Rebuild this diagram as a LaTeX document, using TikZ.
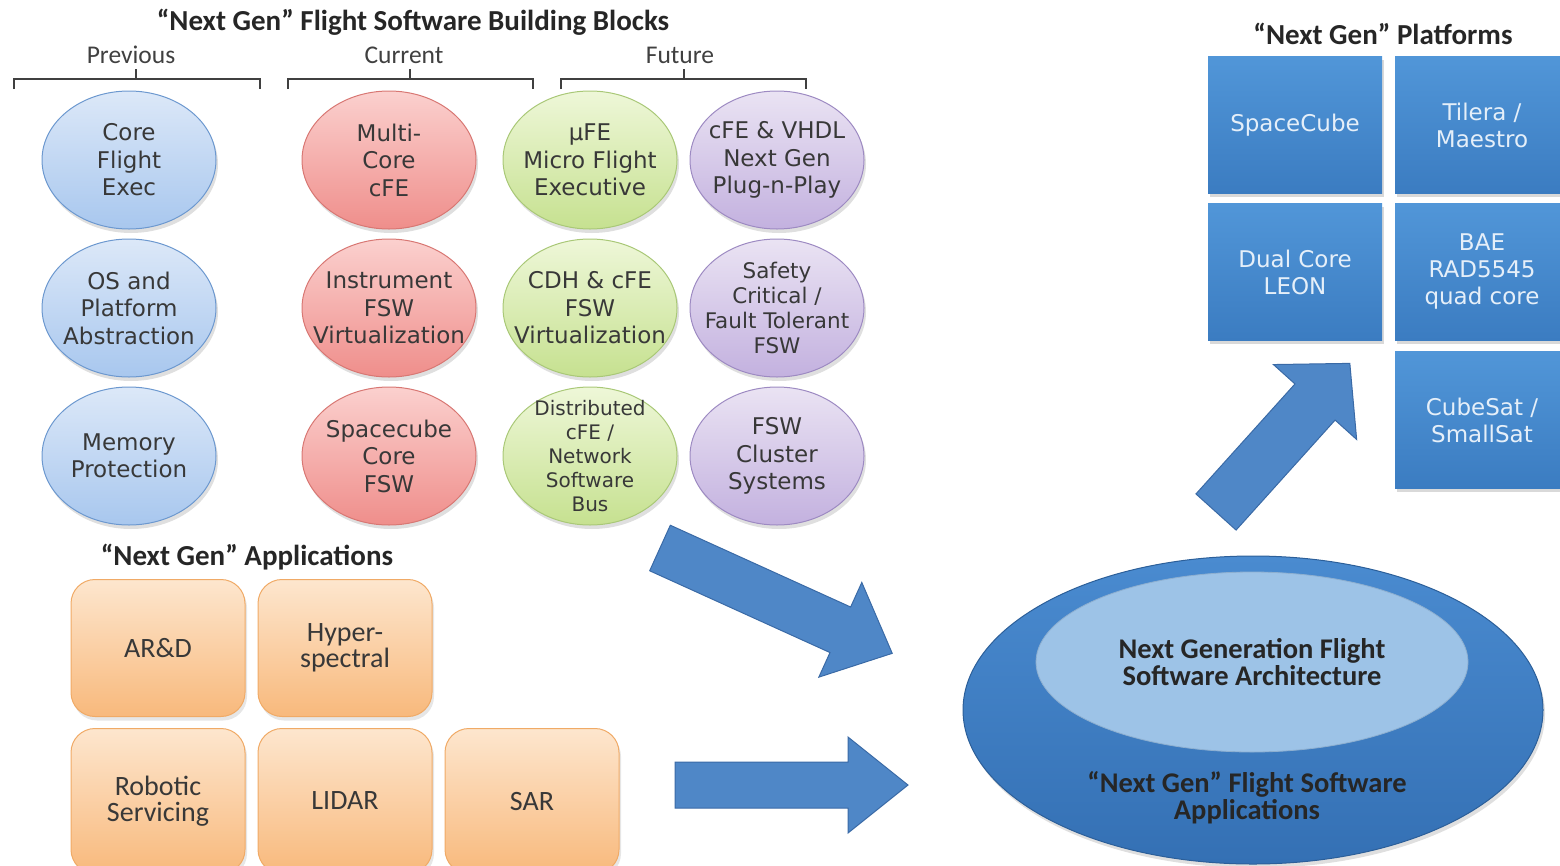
\documentclass[tikz,border=0pt]{standalone}
\usepackage{fontspec}
\setmainfont{DejaVu Sans}
\newfontfamily\calfont{Carlito}
\usetikzlibrary{shapes.geometric,shadows,positioning}

\definecolor{prevline}{HTML}{6C98CF}
\definecolor{prevtop}{HTML}{DCE8F8}
\definecolor{prevbot}{HTML}{A8C7EE}
\definecolor{curline}{HTML}{D87773}
\definecolor{curtop}{HTML}{FBD0CE}
\definecolor{curbot}{HTML}{EF8E8B}
\definecolor{futline}{HTML}{A9C877}
\definecolor{futtop}{HTML}{EEF7D8}
\definecolor{futbot}{HTML}{C6E190}
\definecolor{nxtline}{HTML}{9D8AC2}
\definecolor{nxttop}{HTML}{EAE3F3}
\definecolor{nxtbot}{HTML}{C3B1DF}
\definecolor{appline}{HTML}{F0AA66}
\definecolor{apptop}{HTML}{FDE6CE}
\definecolor{appbot}{HTML}{F8B97C}
\definecolor{platop}{HTML}{5196D8}
\definecolor{platbot}{HTML}{3B7CC1}
\definecolor{arrowfill}{HTML}{4F87C7}
\definecolor{arrowline}{HTML}{3A6AA6}
\definecolor{outertop}{HTML}{4A8BD0}
\definecolor{outerbot}{HTML}{3470B4}
\definecolor{innerfill}{HTML}{9DC3E7}
\definecolor{inktext}{HTML}{383838}

\tikzset{
  blk/.style={ellipse, minimum width=174pt, minimum height=138pt, line width=1pt,
    inner xsep=-16pt, inner ysep=-12pt,
    align=center, text=inktext, font=\fontsize{23}{27.5}\selectfont,
    drop shadow={shadow xshift=2pt, shadow yshift=-4pt, opacity=0.25}},
  prevblk/.style={blk, draw=prevline, top color=prevtop, bottom color=prevbot},
  curblk/.style={blk, draw=curline, top color=curtop, bottom color=curbot},
  futblk/.style={blk, draw=futline, top color=futtop, bottom color=futbot},
  nxtblk/.style={blk, draw=nxtline, top color=nxttop, bottom color=nxtbot},
  appbox/.style={rectangle, rounded corners=24pt, minimum width=174pt, minimum height=137pt,
    draw=appline, line width=1pt, top color=apptop, bottom color=appbot, align=center,
    text=inktext, font=\calfont\fontsize{28}{26.5}\selectfont,
    drop shadow={shadow xshift=2pt, shadow yshift=-4pt, opacity=0.2}},
  platbox/.style={rectangle, minimum width=174pt, minimum height=137pt,
    top color=platop, bottom color=platbot, align=center, text=white!85!platop,
    font=\fontsize{23}{27}\selectfont,
    drop shadow={shadow xshift=2pt, shadow yshift=-3pt, opacity=0.3}},
  hdr/.style={font=\calfont\bfseries\fontsize{29}{32}\selectfont, text=black!85},
  sublbl/.style={font=\calfont\fontsize{25.5}{28}\selectfont, text=black!75},
  archtxt/.style={align=center, font=\calfont\bfseries\fontsize{28.5}{27}\selectfont, text=black!85},
  brk/.style={draw=black!75, line width=1.6pt},
  bigarrow/.style={fill=arrowfill, draw=arrowline, line width=1pt, line join=miter}
}

\begin{document}
\begin{tikzpicture}[x=1pt,y=-1pt]
\useasboundingbox (0,0) rectangle (1560,865);
\clip (0,0) rectangle (1560,865);

% building blocks
\node[hdr] (bbtitle) at (413,22) {“Next Gen” Flight Software Building Blocks};
\node[sublbl] (prevlbl) at (131,55) {Previous};
\node[sublbl] (curlbl) at (404,55) {Current};
\node[sublbl] (futlbl) at (680,55) {Future};
\foreach \l/\r/\m in {14/260/136, 288/533/410, 561/806/684}{
  \draw[brk] (\l,89) |- (\r,79) -- (\r,89);
  \draw[brk] (\m,79) -- (\m,69);
}

\node[prevblk] (cfe) at (129,160) {Core\\Flight\\Exec};
\node[prevblk] (osal) at (129,308) {OS and\\Platform\\Abstraction};
\node[prevblk] (memprot) at (129,456) {Memory\\Protection};

\node[curblk] (multicore) at (389,160) {Multi-\\Core\\cFE};
\node[curblk] (instvirt) at (389,308) {Instrument\\FSW\\Virtualization};
\node[curblk] (sccore) at (389,456) {Spacecube\\Core\\FSW};

\node[futblk] (mufe) at (590,160) {µFE\\Micro Flight\\Executive};
\node[futblk] (cdhvirt) at (590,308) {CDH \& cFE\\FSW\\Virtualization};
\node[futblk, font=\fontsize{20}{24}\selectfont] (distcfe) at (590,456) {Distributed\\cFE /\\Network\\Software\\Bus};

\node[nxtblk] (vhdl) at (777,160) {cFE \& VHDL\\Next Gen\\Plug-n-Play};
\node[nxtblk, font=\fontsize{21.5}{25}\selectfont] (safety) at (777,308) {Safety\\Critical /\\Fault Tolerant\\FSW};
\node[nxtblk] (cluster) at (777,456) {FSW\\Cluster\\Systems};

% applications
\node[hdr] (apptitle) at (247,557) {“Next Gen” Applications};
\node[appbox] (ard) at (158,648) {AR\&D};
\node[appbox] (hyper) at (345,648) {Hyper-\\spectral};
\node[appbox, minimum height=145pt] (robotic) at (158,801) {Robotic\\Servicing};
\node[appbox, minimum height=145pt] (lidar) at (345,801) {LIDAR};
\node[appbox, minimum height=145pt] (sar) at (532,801) {SAR};

% platforms
\node[hdr] (plattitle) at (1383,34) {“Next Gen” Platforms};
\node[platbox] (spacecube) at (1295,125) {SpaceCube};
\node[platbox] (tilera) at (1482,125) {Tilera /\\Maestro};
\node[platbox] (leon) at (1295,272) {Dual Core\\LEON};
\node[platbox] (bae) at (1482,272) {BAE\\RAD5545\\quad core};
\node[platbox] (cubesat) at (1482,420) {CubeSat /\\SmallSat};

% architecture
\node[ellipse, minimum width=580pt, minimum height=308pt, top color=outertop, bottom color=outerbot,
  draw=outerbot!85!black, line width=1pt,
  drop shadow={shadow xshift=2pt, shadow yshift=-4pt, opacity=0.25}] (outer) at (1253,710) {};
\node[ellipse, minimum width=432pt, minimum height=180pt, fill=innerfill, draw=innerfill!90!black,
  line width=0.8pt, inner xsep=-40pt, archtxt] (inner) at (1252,662)
  {Next Generation Flight\\Software Architecture};
\node[archtxt] (apps) at (1247,798) {“Next Gen” Flight Software\\Applications};

% block arrows
\draw[bigarrow, shift={(660,548)}, rotate=-24.4]
  (0,-25) -- (198,-25) -- (198,-52) -- (255,0) -- (198,52) -- (198,25) -- (0,25) -- cycle;
\draw[bigarrow, shift={(675,785)}]
  (0,-23) -- (173,-23) -- (173,-48) -- (233,0) -- (173,48) -- (173,23) -- (0,23) -- cycle;
\draw[bigarrow, shift={(1216,512)}, rotate=48]
  (0,-27) -- (148,-27) -- (148,-56) -- (200,0) -- (148,56) -- (148,27) -- (0,27) -- cycle;
\end{tikzpicture}
\end{document}
